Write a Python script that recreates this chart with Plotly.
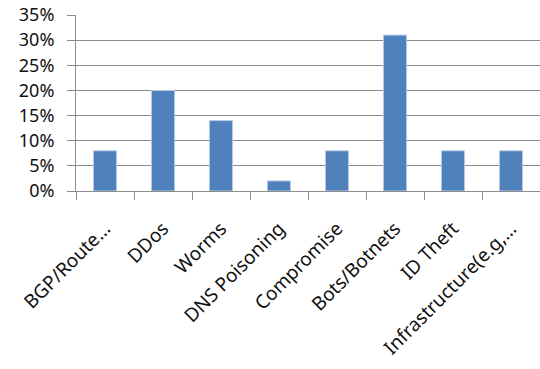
import plotly.graph_objects as go

categories = ["BGP/Route...", "DDos", "Worms", "DNS Poisoning", "Compromise",
              "Bots/Botnets", "ID Theft", "Infrastructure(e.g,..."]
values = [0.08, 0.20, 0.14, 0.02, 0.08, 0.31, 0.08, 0.08]
y_ticks = [0, 0.05, 0.10, 0.15, 0.20, 0.25, 0.30, 0.35]

FONT = "Noto Sans"
GRID = "#8c8c8c"

fig = go.Figure(go.Bar(
    x=categories, y=values, width=0.4,
    marker=dict(color="#4f81bd", line=dict(color="#b9cde5", width=1)),
))

fig.update_layout(
    width=540, height=369,
    margin=dict(l=76, r=0, t=15, b=178),
    plot_bgcolor="white", paper_bgcolor="white",
    showlegend=False,
    font=dict(family=FONT, size=16, color="#111111"),
)
fig.update_xaxes(
    type="category", tickangle=-45, showline=True, linecolor=GRID, linewidth=1,
    ticks="outside", ticklen=8, tickcolor=GRID, tickson="boundaries",
    showgrid=False, tickfont=dict(family=FONT, size=19), ticklabelstandoff=18,
)
fig.update_yaxes(
    range=[0, 0.35], tickvals=y_ticks, tickformat=".0%",
    showline=True, linecolor=GRID, linewidth=1,
    ticks="outside", ticklen=8, tickcolor=GRID,
    showgrid=True, gridcolor=GRID, gridwidth=1, zeroline=False,
    tickfont=dict(family=FONT, size=18), ticklabelstandoff=9,
)

fig.write_html("out.html")
